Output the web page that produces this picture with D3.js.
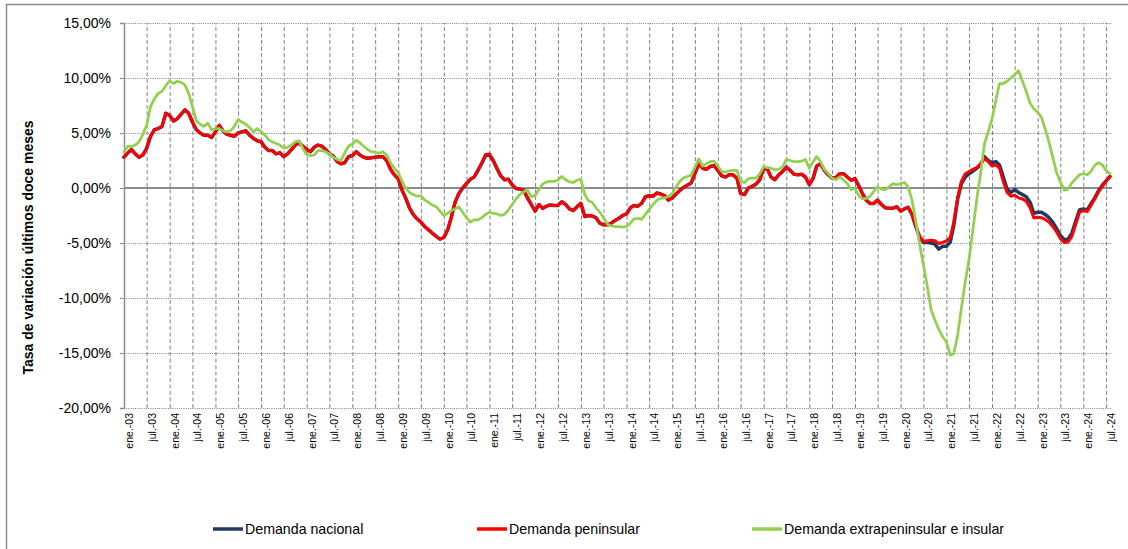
<!DOCTYPE html>
<html>
<head>
<meta charset="utf-8">
<script src="https://cdn.jsdelivr.net/npm/d3@7"></script>
<style>
  body { margin: 0; background: #fff; }
  svg { display: block; font-family: "Liberation Sans", Arial, sans-serif; }
</style>
</head>
<body>
<div id="chart"></div>
<script>
// monthly series, ene-03 .. ago-24 (one row per year)
const firstMonth = new Date(2003, 0, 1);

const nacional = [
  2.8, 3.2, 3.5, 3.1, 2.8, 3.0, 3.6, 4.7, 5.3, 5.4, 5.6, 6.8,
  6.6, 6.1, 6.3, 6.7, 7.1, 6.8, 6.0, 5.3, 5.0, 4.8, 4.8, 4.6,
  5.1, 5.7, 5.2, 4.9, 4.8, 4.7, 5.0, 5.1, 5.2, 4.8, 4.5, 4.3,
  4.2, 3.7, 3.4, 3.4, 3.1, 3.2, 2.85, 3.1, 3.5, 3.9, 4.1, 3.8,
  3.5, 3.3, 3.7, 3.9, 3.8, 3.5, 3.1, 2.9, 2.4, 2.2, 2.3, 2.85,
  2.95, 3.3, 3.0, 2.8, 2.7, 2.75, 2.8, 2.85, 2.85, 2.5, 1.7, 1.2,
  0.85, -0.2, -0.9, -1.8, -2.4, -2.8, -3.1, -3.5, -3.8, -4.1, -4.4, -4.65,
  -4.5, -3.8, -2.7, -1.3, -0.5, 0.0, 0.4, 0.8, 1.0, 1.6, 2.25, 2.95,
  3.0, 2.45, 1.8, 1.1, 0.75, 0.8, 0.3, -0.05, -0.1, -0.2, -0.9, -1.5,
  -2.1, -1.5, -1.85, -1.65, -1.55, -1.6, -1.6, -1.25, -1.5, -1.9, -2.05, -1.7,
  -1.4, -2.6, -2.5, -2.55, -2.7, -3.2, -3.35, -3.35, -3.2, -2.95, -2.75, -2.5,
  -2.35, -1.8, -1.6, -1.65, -1.4, -0.8, -0.7, -0.75, -0.45, -0.55, -0.7, -1.1,
  -0.9, -0.55, -0.25, 0.05, 0.25, 0.45, 1.3, 2.2, 1.8, 1.7, 1.95, 2.05,
  1.6, 1.1, 1.0, 1.2, 1.2, 0.9, -0.5, -0.6, 0.0, 0.15, 0.35, 0.75,
  1.8, 1.7, 1.0, 0.75, 1.2, 1.5, 1.9, 1.6, 1.25, 1.2, 1.25, 1.0,
  0.3, 0.9, 2.0, 2.2, 1.6, 1.2, 0.9, 0.95, 1.3, 1.3, 1.0, 0.7,
  0.85, 0.2, -0.5, -1.1, -1.4, -1.4, -1.1, -1.5, -1.8, -1.85, -1.85, -1.7,
  -2.1, -1.9, -1.75, -2.4, -3.5, -4.45, -4.95, -4.95, -5.0, -5.1, -5.55, -5.3,
  -5.3, -4.9, -3.4, -1.0, 0.4, 1.0, 1.3, 1.55, 1.8, 2.1, 2.85, 2.5,
  2.3, 2.4, 2.1, 1.0, -0.1, -0.4, -0.15, -0.4, -0.6, -0.8, -1.3, -2.3,
  -2.2, -2.2, -2.4, -2.7, -3.1, -3.7, -4.3, -4.7, -4.65, -4.1, -3.0, -2.0,
  -1.9, -2.0, -1.45, -0.9, -0.25, 0.25, 0.65, 1.05
];

const peninsular = [
  2.8, 3.2, 3.5, 3.1, 2.8, 3.0, 3.6, 4.7, 5.3, 5.4, 5.6, 6.8,
  6.6, 6.1, 6.3, 6.7, 7.1, 6.8, 6.0, 5.3, 5.0, 4.8, 4.8, 4.6,
  5.1, 5.7, 5.2, 4.9, 4.8, 4.7, 5.0, 5.1, 5.2, 4.8, 4.5, 4.3,
  4.2, 3.7, 3.4, 3.4, 3.1, 3.2, 2.85, 3.1, 3.5, 3.9, 4.1, 3.8,
  3.5, 3.3, 3.7, 3.9, 3.8, 3.5, 3.1, 2.9, 2.4, 2.2, 2.3, 2.85,
  2.95, 3.3, 3.0, 2.8, 2.7, 2.75, 2.8, 2.85, 2.85, 2.5, 1.7, 1.2,
  0.85, -0.2, -0.9, -1.8, -2.4, -2.8, -3.1, -3.5, -3.8, -4.1, -4.4, -4.65,
  -4.5, -3.8, -2.7, -1.3, -0.5, 0.0, 0.4, 0.8, 1.0, 1.6, 2.3, 3.05,
  3.1, 2.5, 1.8, 1.1, 0.75, 0.8, 0.3, -0.05, -0.1, -0.2, -0.9, -1.5,
  -2.1, -1.5, -1.85, -1.65, -1.55, -1.6, -1.6, -1.25, -1.5, -1.9, -2.05, -1.7,
  -1.4, -2.6, -2.5, -2.55, -2.7, -3.2, -3.35, -3.35, -3.2, -2.95, -2.75, -2.5,
  -2.35, -1.8, -1.6, -1.65, -1.4, -0.8, -0.7, -0.75, -0.45, -0.55, -0.7, -1.1,
  -0.9, -0.55, -0.25, 0.05, 0.25, 0.45, 1.3, 2.2, 1.8, 1.7, 1.95, 2.05,
  1.6, 1.1, 1.0, 1.2, 1.2, 0.9, -0.5, -0.6, 0.0, 0.15, 0.35, 0.75,
  1.8, 1.7, 1.0, 0.75, 1.2, 1.5, 1.9, 1.6, 1.25, 1.2, 1.25, 1.0,
  0.3, 0.9, 2.0, 2.2, 1.6, 1.2, 0.9, 0.95, 1.3, 1.3, 1.0, 0.7,
  0.85, 0.2, -0.5, -1.1, -1.4, -1.4, -1.1, -1.5, -1.8, -1.85, -1.85, -1.7,
  -2.1, -1.9, -1.75, -2.4, -3.5, -4.4, -4.85, -4.8, -4.75, -4.8, -5.05, -4.95,
  -4.8, -4.5, -3.1, -0.9, 0.6, 1.3, 1.5, 1.7, 1.85, 2.2, 2.7, 2.4,
  2.0, 2.1, 1.8, 0.6, -0.4, -0.75, -0.65, -0.9, -1.0, -1.2, -1.8, -2.7,
  -2.65, -2.7, -2.85, -3.1, -3.5, -4.0, -4.6, -4.95, -4.9, -4.4, -3.3, -2.2,
  -2.05, -2.15, -1.6, -1.0, -0.35, 0.15, 0.6, 1.05
];

const extrapeninsular = [
  3.3, 3.8, 3.75, 3.9, 4.2, 4.9, 5.7, 7.4, 8.1, 8.6, 8.8, 9.3,
  9.75, 9.5, 9.7, 9.6, 9.4, 8.6, 7.4, 6.1, 5.8, 5.6, 5.9, 5.3,
  5.4, 5.4, 5.2, 5.1, 5.2, 5.6, 6.2, 6.0, 5.8, 5.5, 5.1, 5.4,
  5.1, 4.8, 4.4, 4.2, 4.05, 3.9, 3.65, 3.7, 3.9, 4.2, 4.3, 3.6,
  3.0, 2.95, 3.0, 3.4, 3.4, 3.3, 3.1, 2.8, 2.6, 2.5, 3.2, 3.8,
  4.0, 4.35, 4.1, 3.8, 3.5, 3.3, 3.25, 3.15, 3.3, 3.0, 2.3, 1.8,
  1.4, 0.6, 0.0, -0.4, -0.6, -0.75, -0.7, -1.1, -1.3, -1.55, -1.7, -2.1,
  -2.5, -2.3, -2.05, -1.9, -1.7, -2.2, -2.7, -3.1, -2.9, -2.9, -2.7, -2.4,
  -2.2, -2.3, -2.35, -2.5, -2.4, -2.0, -1.5, -1.0, -0.6, -0.35, -0.2, -0.8,
  -0.7, -0.1, 0.35, 0.55, 0.6, 0.6, 0.7, 1.05, 0.75, 0.55, 0.5, 0.7,
  0.8, -0.6, -1.15, -1.3, -1.8, -2.2, -2.7, -3.3, -3.45, -3.5, -3.5, -3.55,
  -3.5, -3.2, -2.8, -2.75, -2.85, -2.4, -1.95, -1.5, -1.1, -0.95, -0.9, -0.75,
  -0.5, 0.1, 0.6, 0.9, 1.05, 1.15, 1.9, 2.65, 2.0, 2.2, 2.4, 2.45,
  2.0, 1.5, 1.45, 1.55, 1.6, 1.6, 0.6, 0.5, 0.85, 0.9, 0.9, 1.3,
  1.95, 1.85, 1.8, 1.65, 1.7, 1.9, 2.6, 2.5, 2.4, 2.4, 2.45, 2.6,
  1.8, 2.4, 2.85, 2.4, 1.7, 1.3, 0.9, 0.75, 1.0, 0.75, 0.4, -0.15,
  -0.05, -0.7, -1.0, -0.95, -0.75, -0.3, 0.1, -0.1, -0.15, 0.1, 0.4, 0.3,
  0.4, 0.5, 0.1, -1.1, -3.0, -5.1, -7.0, -8.9, -11.1, -12.0, -12.85, -13.5,
  -14.0, -15.2, -15.05, -13.4, -10.9, -8.5, -6.5, -3.8, -1.0, 1.3, 4.0, 5.1,
  6.3, 8.0, 9.5, 9.5, 9.7, 10.0, 10.3, 10.65, 9.7, 8.8, 7.7, 7.2,
  6.9, 6.4, 5.4, 4.2, 2.8, 1.4, 0.55, -0.2, -0.1, 0.45, 0.85, 1.2,
  1.3, 1.2, 1.5, 2.05, 2.3, 2.1, 1.6, 1.3
];

const seriesNames = ["Demanda nacional", "Demanda peninsular", "Demanda extrapeninsular e insular"];
const seriesColors = ["#1f3a60", "#ff0000", "#92d050"];

const xTickLabels = [
  "ene.-03", "jul.-03", "ene.-04", "jul.-04", "ene.-05", "jul.-05", "ene.-06", "jul.-06",
  "ene.-07", "jul.-07", "ene.-08", "jul.-08", "ene.-09", "jul.-09", "ene.-10", "jul.-10",
  "ene.-11", "jul.-11", "ene.-12", "jul.-12", "ene.-13", "jul.-13", "ene.-14", "jul.-14",
  "ene.-15", "jul.-15", "ene.-16", "jul.-16", "ene.-17", "jul.-17", "ene.-18", "jul.-18",
  "ene.-19", "jul.-19", "ene.-20", "jul.-20", "ene.-21", "jul.-21", "ene.-22", "jul.-22",
  "ene.-23", "jul.-23", "ene.-24", "jul.-24"
];
const yTicks = [-20, -15, -10, -5, 0, 5, 10, 15];

const width = 1128, height = 549;
const plotLeft = 124, plotRight = 1110, gridRight = 1112, plotTop = 23, plotBottom = 408;

const svg = d3.select("#chart")
  .append("svg")
  .attr("width", width)
  .attr("height", height);

// chart frame (only top and left edges are visible)
svg.append("path")
  .attr("d", `M6.5,${height} V4.5 H${width}`)
  .attr("fill", "none")
  .attr("stroke", "#8c8c8c")
  .attr("stroke-width", 1.5);

const dates = peninsular.map((d, i) => d3.timeMonth.offset(firstMonth, i));
const tickDates = xTickLabels.map((d, i) => d3.timeMonth.offset(firstMonth, i * 6));

const x = d3.scaleTime()
  .domain([dates[0], dates[dates.length - 1]])
  .range([plotLeft, plotRight]);

const y = d3.scaleLinear()
  .domain([-20, 15])
  .range([plotBottom, plotTop]);

const es = d3.formatLocale({ decimal: ",", thousands: ".", grouping: [3], currency: ["", " €"], minus: "-" });
const pct = es.format(".2f");

// horizontal dotted grid
svg.append("g")
  .attr("transform", `translate(${plotLeft},0)`)
  .call(d3.axisLeft(y).tickValues(yTicks.filter(v => v !== 0)).tickSize(-(gridRight - plotLeft)).tickFormat(""))
  .call(g => g.select(".domain").remove())
  .call(g => g.selectAll("line")
    .attr("stroke", "#808080")
    .attr("stroke-width", 1)
    .attr("stroke-dasharray", "1,1.2"));

// vertical dashed grid
svg.append("g")
  .attr("transform", `translate(0,${plotBottom})`)
  .call(d3.axisBottom(x).tickValues(tickDates.slice(1)).tickSize(-(plotBottom - plotTop)).tickFormat(""))
  .call(g => g.select(".domain").remove())
  .call(g => g.selectAll("line")
    .attr("stroke", "#808080")
    .attr("stroke-width", 1)
    .attr("stroke-dasharray", "4,2.5"));

// zero line
svg.append("line")
  .attr("x1", plotLeft).attr("x2", gridRight)
  .attr("y1", y(0)).attr("y2", y(0))
  .attr("stroke", "#8c8c8c")
  .attr("stroke-width", 2);

// y axis
svg.append("g")
  .attr("transform", `translate(${plotLeft},0)`)
  .call(d3.axisLeft(y).tickValues(yTicks).tickSize(4).tickPadding(9).tickFormat(d => pct(d) + "%"))
  .call(g => g.select(".domain").attr("stroke", "#8c8c8c").attr("stroke-width", 1.5))
  .call(g => g.selectAll(".tick line").attr("stroke", "#8c8c8c"))
  .call(g => g.selectAll("text")
    .attr("fill", "#000")
    .style("font-size", "14px")
    .style("font-family", "'Liberation Sans', Arial, sans-serif"));

// x axis labels (rotated)
svg.append("g")
  .attr("transform", `translate(0,${plotBottom})`)
  .call(d3.axisBottom(x).tickValues(tickDates).tickSize(0).tickFormat((d, i) => xTickLabels[i]))
  .call(g => g.select(".domain").remove())
  .call(g => g.selectAll("text")
    .attr("transform", "rotate(-90)")
    .attr("text-anchor", "end")
    .attr("x", -5)
    .attr("y", 8.5)
    .attr("dy", 0)
    .attr("fill", "#000")
    .style("font-size", "10.5px")
    .style("font-family", "'Liberation Sans', Arial, sans-serif"));

// y axis title
svg.append("text")
  .attr("transform", `translate(33,${(117 + 378) / 2}) rotate(-90)`)
  .attr("text-anchor", "middle")
  .style("font-size", "14px")
  .style("font-weight", "bold")
  .text("Tasa de variación últimos doce meses");

// lines
const line = d3.line()
  .x((d, i) => x(dates[i]))
  .y(d => y(d));

const allSeries = [nacional, peninsular, extrapeninsular];
const widths = [3.5, 3, 2.75];

svg.selectAll(".serie")
  .data(allSeries)
  .enter()
  .append("path")
  .attr("class", "serie")
  .attr("d", d => line(d))
  .attr("fill", "none")
  .attr("stroke", (d, i) => seriesColors[i])
  .attr("stroke-width", (d, i) => widths[i])
  .attr("stroke-linejoin", "round")
  .attr("stroke-linecap", "round");

// legend
const legendX = [213, 477, 752];
const legend = svg.selectAll(".legend")
  .data(seriesNames)
  .enter()
  .append("g")
  .attr("class", "legend")
  .attr("transform", (d, i) => `translate(${legendX[i]},529)`);

legend.append("line")
  .attr("x1", 0).attr("x2", 30)
  .attr("stroke", (d, i) => seriesColors[i])
  .attr("stroke-width", 3.5);

legend.append("text")
  .attr("x", 32)
  .attr("dy", "0.35em")
  .style("font-size", "14.2px")
  .text(d => d);
</script>
</body>
</html>
